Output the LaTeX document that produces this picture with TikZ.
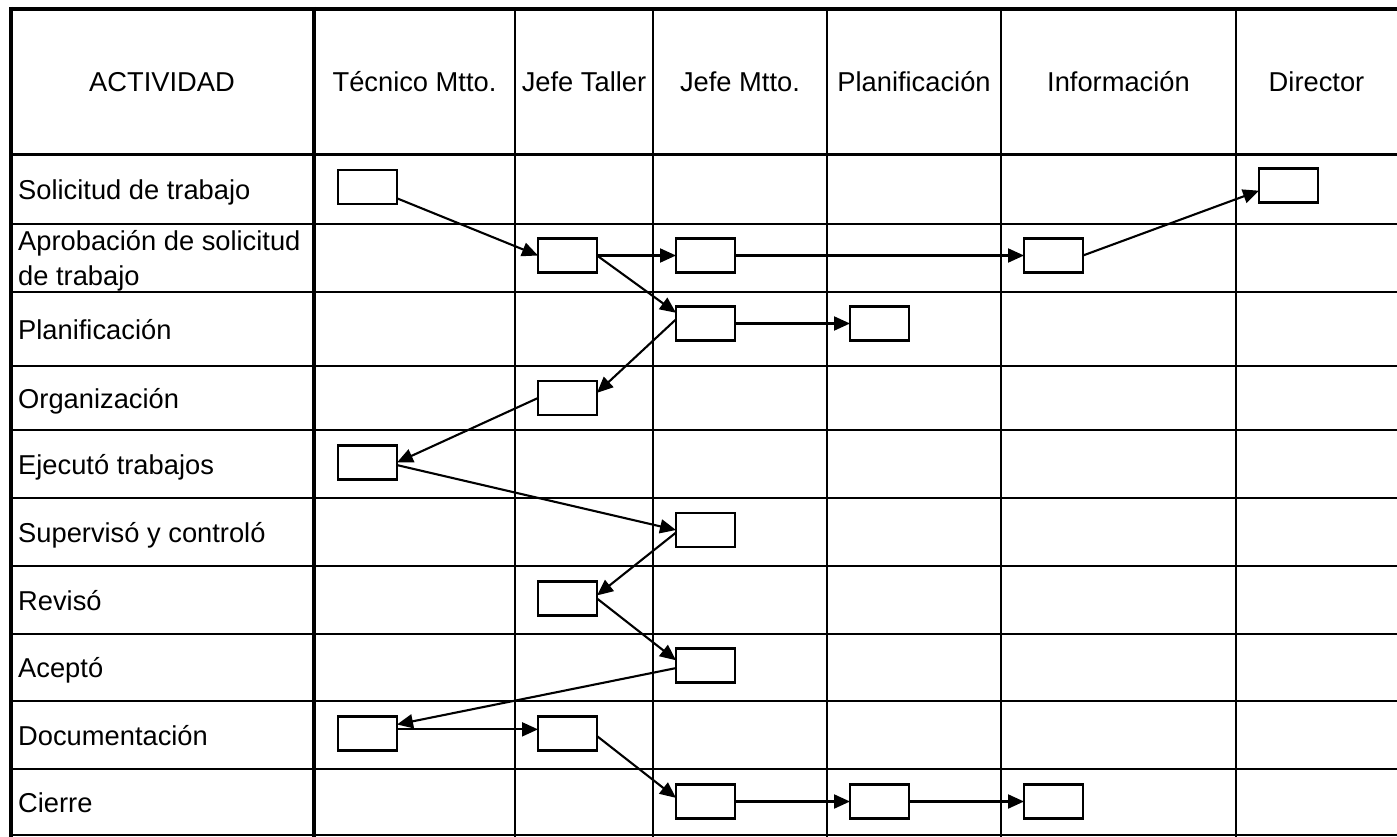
\documentclass[tikz,border=0pt]{standalone}
\usepackage{fontspec}
\setmainfont{Liberation Sans}
\usetikzlibrary{arrows.meta}
\begin{document}
\begin{tikzpicture}[x=1pt,y=-1pt,
  box/.style={draw=black, line width=2.2pt, minimum width=59pt, minimum height=34pt, inner sep=0pt, outer sep=0pt},
  flow/.style={line width=2.1pt, -{Triangle[length=16pt,width=14pt]}},
  grid/.style={line width=2.5pt},
  hdr/.style={anchor=base, inner sep=0pt, font=\fontsize{27.3}{34}\selectfont},
  lbl/.style={anchor=base west, inner sep=0pt, font=\fontsize{27.3}{34}\selectfont}]
\useasboundingbox (0,0) rectangle (1397,837);
\fill[white] (0,0) rectangle (1397,837);

% table grid
\draw[line width=3.5pt] (9,9) -- (1397,9);
\draw[line width=3pt] (9,155) -- (1397,155);
\foreach \y in {224,292,366,430,498,566,634,701,769} \draw[grid] (9,\y) -- (1397,\y);
\draw[grid] (9,835) -- (1397,835);
\draw[line width=4.7pt] (11,7) -- (11,837);
\draw[line width=4.5pt] (314,7) -- (314,837);
\foreach \x in {515,653,827,1001,1236} \draw[grid] (\x,9) -- (\x,837);

% header
\node[hdr] (hA) at (162,92) {ACTIVIDAD};
\node[hdr] (hT) at (414.5,92) {Técnico Mtto.};
\node[hdr] (hJT) at (584,92) {Jefe Taller};
\node[hdr] (hJM) at (740,92) {Jefe Mtto.};
\node[hdr] (hP) at (914,92) {Planificación};
\node[hdr] (hI) at (1118.5,92) {Información};
\node[hdr] (hD) at (1316.5,92) {Director};

% row labels
\node[lbl] (r1) at (18,199.5) {Solicitud de trabajo};
\node[lbl] (r2a) at (18,251) {Aprobación de solicitud};
\node[lbl] (r2b) at (18,285) {de trabajo};
\node[lbl] (r3) at (18,339) {Planificación};
\node[lbl] (r4) at (18,408) {Organización};
\node[lbl] (r5) at (18,474) {Ejecutó trabajos};
\node[lbl] (r6) at (18,542) {Supervisó y controló};
\node[lbl] (r7) at (18,610) {Revisó};
\node[lbl] (r8) at (18,677.5) {Aceptó};
\node[lbl] (r9) at (18,745) {Documentación};
\node[lbl] (r10) at (18,812) {Cierre};

% boxes
\node[box] (T1) at (367.5,187) {};
\node[box] (D1) at (1288.5,185.5) {};
\node[box] (JT2) at (567.5,255.5) {};
\node[box] (JM2) at (705.5,255.5) {};
\node[box] (I2) at (1053.5,255.5) {};
\node[box] (JM3) at (705.5,323.5) {};
\node[box] (P3) at (879.5,323.5) {};
\node[box] (JT4) at (567.5,398) {};
\node[box] (T5) at (367.5,462.5) {};
\node[box] (JM6) at (705.5,530) {};
\node[box] (JT7) at (567.5,598.5) {};
\node[box] (JM8) at (705.5,665.5) {};
\node[box] (T9) at (367.5,733.5) {};
\node[box] (JT9) at (567.5,733.5) {};
\node[box] (JM10) at (705.5,801.5) {};
\node[box] (P10) at (879.5,801.5) {};
\node[box] (I10) at (1053.5,801.5) {};

% connectors
\draw[flow] (T1.-21) -- (JT2.west);
\draw[flow] (JT2.east) -- (JM2.west);
\draw[flow] (JM2.east) -- (I2.west);
\draw[flow] (I2.east) -- (D1.190);
\draw[flow] (JT2.east) -- (JM3.160);
\draw[flow] (JM3.east) -- (P3.west);
\draw[flow] (JM3.172) -- (JT4.10);
\draw[flow] (JT4.west) -- (T5.east);
\draw[flow] (T5.-5) -- (JM6.west);
\draw[flow] (JM6.-175) -- (JT7.6);
\draw[flow] (JT7.east) -- (JM8.170);
\draw[flow] (JM8.-175) -- (T9.17);
\draw[flow] (T9.8) -- (JT9.172);
\draw[flow] (JT9.-5) -- (JM10.173);
\draw[flow] (JM10.east) -- (P10.west);
\draw[flow] (P10.east) -- (I10.west);
\end{tikzpicture}
\end{document}
